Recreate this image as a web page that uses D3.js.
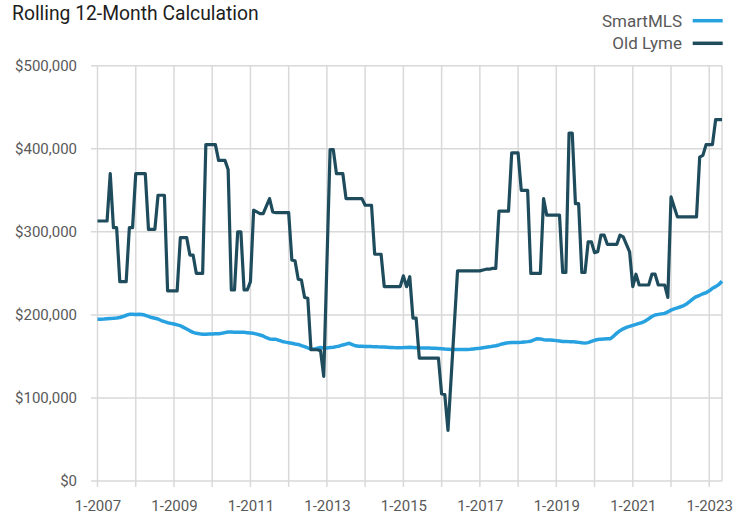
<!DOCTYPE html>
<html>
<head>
<meta charset="utf-8">
<script src="https://cdn.jsdelivr.net/npm/d3@7"></script>
<style>
  html, body { margin: 0; padding: 0; background: #ffffff; }
  svg { display: block; font-family: Roboto, "Helvetica Neue", Arial, sans-serif; }
</style>
</head>
<body>
<svg id="chart" width="748" height="515"></svg>
<script>
// Monthly rolling 12-month median sales price, 1-2007 through 5-2023 (values in $ thousands)
const startYear = 2007;
const monthCount = 197;

const seriesNames = ["SmartMLS", "Old Lyme"];
const seriesColors = ["#27a1e0", "#1f4c5c"];

const smartMLS = [
  194.7, 194.8, 195.0, 195.3, 195.6, 195.9, 196.3, 196.8, 198.0, 199.5, 200.7, 200.7,
  200.5, 200.7, 200.5, 199.5, 198.2, 196.8, 196.0, 195.0, 193.2, 191.8, 190.6, 189.8,
  189.0, 188.0, 187.0, 185.0, 183.0, 180.8, 179.0, 177.8, 177.2, 176.8, 176.8, 177.0,
  177.0, 177.2, 177.4, 177.8, 178.6, 179.4, 179.3, 179.0, 179.1, 179.0, 179.0, 178.6,
  178.2, 177.8, 176.8, 175.8, 174.6, 172.5, 171.0, 170.8, 170.6, 169.4, 168.0, 167.2,
  166.5, 165.8, 164.9, 164.4, 163.0, 161.7, 160.2, 158.8, 158.8, 159.8, 160.8, 160.0,
  160.2, 160.6, 161.0, 161.8, 162.6, 163.8, 164.8, 165.8, 164.2, 162.8, 162.2, 162.2,
  162.0, 162.0, 161.8, 161.7, 161.5, 161.4, 161.2, 161.0, 160.8, 160.6, 160.5, 160.5,
  160.6, 160.8, 161.0, 160.8, 160.5, 160.3, 160.2, 160.0, 160.0, 159.9, 159.8, 159.5,
  159.2, 158.8, 158.6, 158.4, 158.4, 158.3, 158.2, 158.3, 158.4, 158.6, 159.0, 159.4,
  159.8, 160.4, 161.0, 161.5, 162.2, 162.8, 163.8, 165.0, 165.9, 166.4, 166.6, 166.7,
  166.8, 167.0, 167.4, 167.8, 168.3, 169.8, 171.4, 171.0, 170.2, 169.9, 169.8, 169.4,
  169.0, 168.5, 168.0, 167.9, 167.8, 167.8, 167.4, 166.9, 166.4, 166.0, 166.6, 168.0,
  169.4, 170.4, 170.8, 171.0, 171.2, 171.4, 174.5, 178.0, 181.0, 183.2, 185.0, 186.2,
  187.4, 188.6, 189.8, 190.8, 192.8, 195.4, 198.0, 199.9, 200.6, 201.2, 201.8, 203.5,
  205.8, 207.2, 208.5, 209.8, 211.2, 213.5, 216.5, 219.6, 222.0, 223.6, 225.4, 226.6,
  229.0, 232.0, 234.0, 236.5, 240.5
];

const oldLyme = [
  313, 313, 313, 313, 370, 305, 305, 240, 240, 240, 305, 305,
  370, 370, 370, 370, 303, 303, 303, 344, 344, 344, 229, 229,
  229, 229, 293, 293, 293, 272, 272, 250, 250, 250, 405, 405,
  405, 405, 386, 386, 386, 375, 230, 230, 300, 300, 230, 230,
  240, 326, 324, 322, 322, 331, 340, 324, 323, 323, 323, 323,
  323, 266, 265, 243, 242, 221, 220, 158, 158, 158, 157, 126,
  262, 399, 399, 370, 370, 370, 340, 340, 340, 340, 340, 340,
  332, 332, 332, 273, 273, 273, 234, 234, 234, 234, 234, 234,
  247, 234, 246, 196, 196, 148, 148, 148, 148, 148, 148, 148,
  105, 104, 61, 125, 189, 253, 253, 253, 253, 253, 253, 253,
  253, 254, 255, 255, 256, 256, 325, 325, 325, 325, 395, 395,
  395, 350, 350, 350, 250, 250, 250, 250, 340, 320, 320, 320,
  320, 320, 251, 251, 419, 419, 334, 334, 251, 251, 288, 288,
  275, 276, 296, 296, 285, 285, 285, 285, 296, 294, 285, 276,
  234, 249, 236, 236, 236, 236, 249, 249, 236, 236, 236, 221,
  342, 330, 318, 318, 318, 318, 318, 318, 318, 390, 392, 405,
  405, 405, 435, 435, 435
];

const yTicks = [0, 100000, 200000, 300000, 400000, 500000];
const xTickLabels = ["1-2007", "1-2009", "1-2011", "1-2013", "1-2015", "1-2017", "1-2019", "1-2021", "1-2023"];

// Category labels (month-year) for every data point
const categories = d3.range(monthCount).map(i => `${(i % 12) + 1}-${startYear + Math.floor(i / 12)}`);

const svg = d3.select("#chart");
const gridColor = "#d9d9d9";
const textColor = "#595959";

const plotLeft = 97.5, plotRight = 722, plotTop = 65.7, plotBottom = 481;

const x = d3.scaleLinear().domain([0, monthCount - 1]).range([plotLeft, plotRight]);
const y = d3.scaleLinear().domain([0, 500000]).range([plotBottom, plotTop]);

// Horizontal gridlines (extend a little left of the first month)
svg.append("g")
  .selectAll("line")
  .data(yTicks)
  .join("line")
  .attr("x1", plotLeft - 6.5)
  .attr("x2", plotRight)
  .attr("y1", d => y(d))
  .attr("y2", d => y(d))
  .attr("stroke", gridColor)
  .attr("stroke-width", 1.5);

// Vertical gridlines every January, with tick stubs below the baseline
const yearIdx = categories.map((c, i) => i).filter(i => i % 12 === 0);
svg.append("g")
  .selectAll("line")
  .data(yearIdx)
  .join("line")
  .attr("x1", d => x(d))
  .attr("x2", d => x(d))
  .attr("y1", plotTop)
  .attr("y2", plotBottom + 6)
  .attr("stroke", gridColor)
  .attr("stroke-width", 1.5);

// Right frame edge
svg.append("line")
  .attr("x1", plotRight).attr("x2", plotRight)
  .attr("y1", plotTop).attr("y2", plotBottom)
  .attr("stroke", gridColor)
  .attr("stroke-width", 1.5);

// Y axis labels
const yAxis = d3.axisLeft(y)
  .tickValues(yTicks)
  .tickSize(0)
  .tickPadding(14)
  .tickFormat(d => "$" + d3.format(",")(d));
const gy = svg.append("g")
  .attr("transform", `translate(${plotLeft - 6.5},0)`)
  .call(yAxis);
gy.select(".domain").remove();
gy.selectAll("text")
  .attr("fill", textColor)
  .style("font-size", "15px")
  .style("font-family", "Roboto, sans-serif");

// X axis labels (every other January)
const labelIdx = xTickLabels.map(l => categories.indexOf(l));
const xAxis = d3.axisBottom(x)
  .tickValues(labelIdx)
  .tickSize(0)
  .tickPadding(19.5)
  .tickFormat(d => categories[d]);
const gx = svg.append("g")
  .attr("transform", `translate(0,${plotBottom})`)
  .call(xAxis);
gx.select(".domain").remove();
gx.selectAll("text")
  .attr("fill", textColor)
  .style("font-size", "15px")
  .style("font-family", "Roboto, sans-serif");

// Series lines
const line = d3.line()
  .x((d, i) => x(i))
  .y(d => y(d * 1000))
  .curve(d3.curveLinear);

svg.append("path")
  .datum(smartMLS)
  .attr("fill", "none")
  .attr("stroke", seriesColors[0])
  .attr("stroke-width", 3.5)
  .attr("stroke-linejoin", "round")
  .attr("d", line);

svg.append("path")
  .datum(oldLyme)
  .attr("fill", "none")
  .attr("stroke", seriesColors[1])
  .attr("stroke-width", 3.2)
  .attr("stroke-linejoin", "round")
  .attr("d", line);

// Title
svg.append("text")
  .attr("x", 12)
  .attr("y", 19.5)
  .attr("fill", "#1d1d1d")
  .style("font-size", "19.3px")
  .text("Rolling 12-Month Calculation");

// Legend (top right)
const legend = svg.append("g");
seriesNames.forEach((name, k) => {
  const ly = 20.7 + k * 22.6;
  legend.append("line")
    .attr("x1", 692.7).attr("x2", 722.7)
    .attr("y1", ly).attr("y2", ly)
    .attr("stroke", seriesColors[k])
    .attr("stroke-width", 3.5);
  legend.append("text")
    .attr("x", 682)
    .attr("y", ly + 6)
    .attr("text-anchor", "end")
    .attr("fill", textColor)
    .style("font-size", "17px")
    .text(name);
});
</script>
</body>
</html>
